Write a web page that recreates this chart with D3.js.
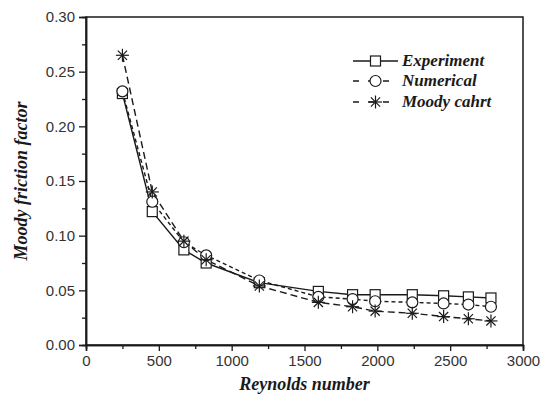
<!DOCTYPE html>
<html><head><meta charset="utf-8">
<script src="https://cdn.jsdelivr.net/npm/d3@7"></script>
<style>body{margin:0;background:#fff}svg{display:block}</style>
</head><body>
<script>
const reynolds = [250, 455, 672, 825, 1190, 1595, 1830, 1985, 2240, 2455, 2625, 2780];
const experiment = [0.230, 0.122, 0.087, 0.075, 0.057, 0.049, 0.046, 0.046, 0.046, 0.045, 0.044, 0.043];
const numerical = [0.232, 0.131, 0.094, 0.082, 0.059, 0.044, 0.042, 0.040, 0.039, 0.038, 0.037, 0.035];
const moody = [0.265, 0.140, 0.095, 0.078, 0.054, 0.039, 0.035, 0.031, 0.029, 0.026, 0.024, 0.022];
const xTicks = [0, 500, 1000, 1500, 2000, 2500, 3000];
const yTicks = [0, 0.05, 0.10, 0.15, 0.20, 0.25, 0.30];
const seriesNames = ["Experiment", "Numerical", "Moody cahrt"];

const W = 551, H = 404;
const svg = d3.select("body").append("svg").attr("width", W).attr("height", H);
const x = d3.scaleLinear().domain([0, 3000]).range([86, 523]);
const y = d3.scaleLinear().domain([0, 0.30]).range([345, 17]);
const ink = "#1a1a1a";

// frame
svg.append("rect").attr("x", x(0)).attr("y", y(0.30)).attr("width", x(3000) - x(0)).attr("height", y(0) - y(0.30))
  .attr("fill", "none").attr("stroke", ink).attr("stroke-width", 1.5);

// axes
svg.append("g").attr("transform", `translate(0,${y(0)})`)
  .call(d3.axisBottom(x).tickValues(xTicks).tickFormat(d3.format("d")).tickSize(6).tickPadding(4));
svg.append("g").attr("transform", `translate(${x(0)},0)`)
  .call(d3.axisLeft(y).tickValues(yTicks).tickFormat(d3.format(".2f")).tickSize(7).tickPadding(4));
svg.append("g").attr("transform", `translate(0,${y(0)})`)
  .call(d3.axisBottom(x).tickValues(d3.range(250, 3000, 500)).tickFormat("").tickSize(4));
svg.append("g").attr("transform", `translate(${x(0)},0)`)
  .call(d3.axisLeft(y).tickValues(d3.range(0.025, 0.30, 0.05)).tickFormat("").tickSize(4));
svg.selectAll(".domain").attr("stroke", ink).attr("stroke-width", 1.5);
svg.selectAll(".tick line").attr("stroke", ink).attr("stroke-width", 1.3);
svg.selectAll(".tick text").attr("font-family", "Liberation Sans, Arial, sans-serif").attr("font-size", 15).attr("fill", "#333");

// titles
svg.append("text").attr("x", (x(0) + x(3000)) / 2).attr("y", 390).attr("text-anchor", "middle")
  .attr("font-family", "Liberation Serif, Times New Roman, serif").attr("font-weight", "bold").attr("font-style", "italic")
  .attr("font-size", 18).attr("fill", ink).text("Reynolds number");
svg.append("text").attr("transform", `translate(27,${(y(0) + y(0.30)) / 2}) rotate(-90)`).attr("text-anchor", "middle")
  .attr("font-family", "Liberation Serif, Times New Roman, serif").attr("font-weight", "bold").attr("font-style", "italic")
  .attr("font-size", 18).attr("fill", ink).text("Moody friction factor");

const series = [
  {name: seriesNames[0], vals: experiment, dash: null, marker: "square"},
  {name: seriesNames[1], vals: numerical, dash: "4,3", marker: "circle"},
  {name: seriesNames[2], vals: moody, dash: "7,4", marker: "star"}
];

function drawMarker(g, type, cx, cy) {
  if (type === "square") {
    g.append("rect").attr("x", cx - 5).attr("y", cy - 5).attr("width", 10).attr("height", 10)
      .attr("fill", "#fff").attr("stroke", ink).attr("stroke-width", 1.2);
  } else if (type === "circle") {
    g.append("circle").attr("cx", cx).attr("cy", cy).attr("r", 5.5)
      .attr("fill", "#fff").attr("stroke", ink).attr("stroke-width", 1.2);
  } else {
    const r = 6.5;
    [0, 45, 90, 135].forEach(a => {
      const t = a * Math.PI / 180;
      g.append("line").attr("x1", cx - r * Math.cos(t)).attr("y1", cy - r * Math.sin(t))
        .attr("x2", cx + r * Math.cos(t)).attr("y2", cy + r * Math.sin(t))
        .attr("stroke", ink).attr("stroke-width", 1.2);
    });
  }
}

const line = d3.line().x(d => x(d[0])).y(d => y(d[1]));
series.forEach(s => {
  const pts = reynolds.map((r, i) => [r, s.vals[i]]);
  svg.append("path").datum(pts).attr("d", line).attr("fill", "none").attr("stroke", ink)
    .attr("stroke-width", 1.4).attr("stroke-dasharray", s.dash);
});
series.forEach(s => {
  const g = svg.append("g");
  reynolds.forEach((r, i) => drawMarker(g, s.marker, x(r), y(s.vals[i])));
});

// legend
const legY = [61, 81, 102];
series.forEach((s, i) => {
  const g = svg.append("g");
  g.append("line").attr("x1", 353).attr("x2", 398).attr("y1", legY[i]).attr("y2", legY[i])
    .attr("stroke", ink).attr("stroke-width", 1.4).attr("stroke-dasharray", s.dash ? "6,9" : null);
  drawMarker(g, s.marker, 375.5, legY[i]);
  g.append("text").attr("x", 402).attr("y", legY[i] + 5).attr("font-family", "Liberation Serif, Times New Roman, serif")
    .attr("font-weight", "bold").attr("font-style", "italic").attr("font-size", 17).attr("fill", ink).text(s.name);
});
</script>
</body></html>
